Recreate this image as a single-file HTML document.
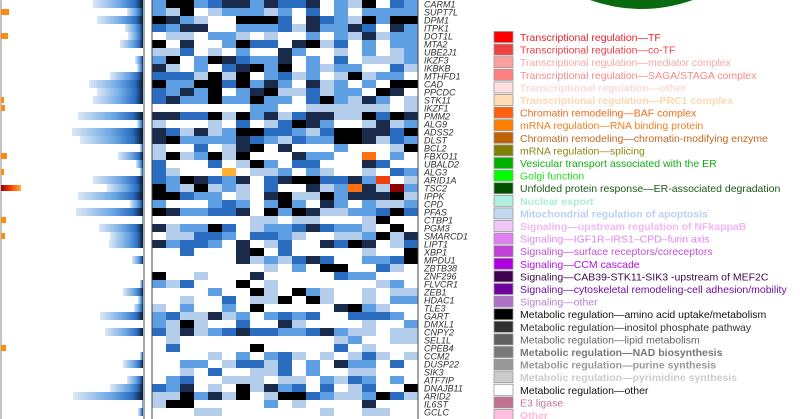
<!DOCTYPE html>
<html><head><meta charset="utf-8">
<style>
html,body{margin:0;padding:0;background:#fff;width:800px;height:419px;overflow:hidden}
svg{display:block}
</style></head>
<body>
<svg id="chart" width="800" height="419" viewBox="0 0 800 419" xmlns="http://www.w3.org/2000/svg">
<path d="M590,0 Q641,18 693,0 Z" fill="#0a6a10"/>
<g id="bars"></g><g id="marks"></g><g id="heat"></g><g id="genes"></g><g id="legend"></g>
</svg>
<script>
const genes=["CARM1","SUPT7L","DPM1","ITPK1","DOT1L","MTA2","UBE2J1","IKZF3","IKBKB","MTHFD1","CAD","PPCDC","STK11","IKZF1","PMM2","ALG9","ADSS2","DLST","BCL2","FBXO11","UBALD2","ALG3","ARID1A","TSC2","IPPK","CPD","PFAS","CTBP1","PGM3","SMARCD1","LIPT1","XBP1","MPDU1","ZBTB38","ZNF296","FLVCR1","ZEB1","HDAC1","TLE3","GART","DMXL1","CNPY2","SEL1L","CPEB4","CCM2","DUSP22","SIK3","ATF7IP","DNAJB11","ARID2","IL6ST","GCLC"];
const barValues=[50,16,46,18,15,23,0,8,6,33,54,46,50,0,65,6,71,63,3,25,7,3,50,36,65,13,67,1,44,33,34,0,11,0,0,3,20,5,9,43,0,38,0,0,3,20,0,16,33,70,1,5];
const markValues=[0,8,0,0,7,0,0,0,0,0,0,0,3,4,0,0,0,0,0,6,0,3,0,20,0,0,0,5,0,4,0,0,0,0,0,0,0,0,0,0,0,0,0,5,0,0,0,0,0,0,0,0];
const heatValues=[
[2,5,5,2,3,4,4,2,4,3,3,4,0,2,1,5,0,3,2],
[2,1,5,0,1,2,2,2,1,2,0,3,0,2,0,2,2,2,2],
[5,4,2,1,0,0,5,5,5,3,0,4,3,2,1,5,2,5,5],
[3,2,4,4,0,0,2,2,2,3,1,4,2,2,4,3,0,4,2],
[0,1,1,0,2,2,1,0,1,0,0,2,0,2,1,4,1,2,2],
[5,0,4,0,0,2,5,3,3,0,4,5,1,3,0,2,0,2,2],
[1,1,3,0,1,0,2,0,0,4,2,0,0,1,0,2,0,1,2],
[2,5,0,2,5,4,3,2,2,4,0,2,0,3,0,1,1,1,2],
[4,1,0,2,0,3,4,5,2,5,0,2,1,2,2,0,0,3,1],
[3,3,3,1,5,1,5,0,2,3,1,2,0,1,5,1,2,2,0],
[5,2,2,5,5,3,5,2,4,2,0,4,1,2,0,2,0,5,5],
[3,2,4,2,5,0,2,4,5,1,1,3,1,2,2,0,5,4,0],
[3,4,2,2,5,2,2,5,2,2,0,3,5,2,1,4,2,0,1],
[0,0,0,0,0,0,0,2,2,0,0,1,1,1,1,1,1,0,1],
[4,4,3,3,5,1,5,2,4,1,3,4,4,1,1,5,3,5,4],
[1,0,0,0,1,0,3,0,1,3,5,4,2,0,0,1,4,1,2],
[4,3,1,4,1,2,5,5,3,3,2,1,3,5,5,4,4,3,5],
[4,5,2,2,2,2,4,3,2,1,3,2,2,5,5,4,1,3,2],
[1,0,0,3,0,1,4,5,0,4,0,0,0,2,0,0,0,1,5],
[1,5,1,2,5,1,5,0,0,0,4,2,2,0,0,6,0,2,0],
[3,0,0,0,3,0,1,5,2,0,3,3,0,0,0,4,3,0,0],
[3,1,0,0,0,9,0,1,1,2,0,2,1,0,0,1,0,3,2],
[3,2,5,4,3,2,4,0,3,4,5,5,3,3,4,2,7,0,1],
[5,2,1,5,1,2,1,0,3,0,0,4,1,2,6,4,1,8,2],
[5,5,3,2,2,0,1,0,4,5,1,1,5,2,4,4,4,5,1],
[2,0,0,0,2,3,2,0,2,5,2,0,4,2,0,2,1,1,2],
[5,4,2,2,3,3,4,0,5,2,5,4,1,1,2,2,3,5,3],
[0,0,0,0,0,0,0,1,1,0,1,1,0,0,0,1,5,0,0],
[4,1,2,2,5,3,0,1,2,2,3,4,3,2,2,1,0,5,0],
[0,1,1,3,3,2,0,3,3,2,1,0,0,1,1,2,5,1,4],
[4,2,3,3,2,0,4,0,1,3,0,0,4,3,5,4,0,1,3],
[0,0,3,0,0,0,4,5,0,3,0,0,0,0,0,1,0,0,5],
[0,0,0,0,0,0,4,1,2,1,3,4,3,0,0,2,2,3,5],
[0,0,0,0,0,0,0,0,1,0,2,0,5,5,0,0,3,1,0],
[5,0,0,1,0,0,0,4,0,0,0,0,0,3,2,2,0,0,0],
[2,1,3,0,0,0,5,0,1,0,0,0,0,0,0,0,1,2,0],
[0,0,0,0,2,0,0,5,1,0,5,2,1,0,0,1,0,1,1],
[0,0,1,0,0,3,0,1,1,5,0,5,1,0,0,1,0,2,2],
[1,0,2,0,0,2,0,5,0,0,0,0,0,4,5,2,1,0,0],
[2,3,1,1,4,1,2,0,2,3,2,3,0,0,3,3,3,2,0],
[2,1,5,1,0,0,3,0,0,4,1,0,0,0,0,1,0,0,2],
[3,1,4,1,2,3,4,3,3,2,2,3,4,2,1,1,0,1,1],
[0,1,0,0,0,0,0,0,0,0,0,0,0,1,2,0,0,1,1],
[0,3,0,0,0,0,0,5,0,0,0,0,0,3,0,1,0,0,0],
[0,0,0,0,1,0,2,0,2,3,1,0,1,0,1,3,1,0,1],
[0,0,2,2,0,1,3,3,1,3,0,2,0,4,2,2,0,3,0],
[0,0,1,0,3,0,0,1,1,3,0,2,0,0,1,1,0,0,0],
[0,2,3,0,0,1,1,1,0,1,1,0,2,1,3,2,0,2,0],
[3,2,4,0,1,0,5,1,4,2,3,0,3,0,1,3,0,0,5],
[1,1,5,2,4,1,5,0,1,5,5,3,2,1,1,2,5,3,1],
[1,5,5,0,0,0,0,0,2,0,1,0,0,0,0,4,0,0,0],
[0,0,0,1,1,0,0,0,0,0,0,0,1,0,0,1,1,0,0]];
const legendLabels=["Transcriptional regulation—TF","Transcriptional regulation—co-TF","Transcriptional regulation—mediator complex","Transcriptional regulation—SAGA/STAGA complex","Transcriptional regulation—other","Transcriptional regulation—PRC1 complex","Chromatin remodeling—BAF complex","mRNA regulation—RNA binding protein","Chromatin remodeling—chromatin-modifying enzyme","mRNA regulation—splicing","Vesicular transport associated with the ER","Golgi function","Unfolded protein response—ER-associated degradation","Nuclear export","Mitochondrial regulation of apoptosis","Signaling—upstream regulation of NFkappaB","Signaling—IGF1R–IRS1–CPD–furin axis","Signaling—surface receptors/coreceptors","Signaling—CCM cascade","Signaling—CAB39-STK11-SIK3 -upstream of MEF2C","Signaling—cytoskeletal remodeling-cell adhesion/mobility","Signaling—other","Metabolic regulation—amino acid uptake/metabolism","Metabolic regulation—inositol phosphate pathway","Metabolic regulation—lipid metabolism","Metabolic regulation—NAD biosynthesis","Metabolic regulation—purine synthesis","Metabolic regulation—pyrimidine synthesis","Metabolic regulation—other","E3 ligase","Other"];
const legendColors=["#ff0000","#f04040","#ffa0a0","#ff8080","#ffe0e0","#ffdcb8","#ff6010","#ff8000","#c06000","#808000","#00b000","#00ff00","#005000","#b0f0e0","#c0d8f0","#f0c8f8","#e080f0","#c040d8","#b000e0","#400050","#7000a0","#b070c8","#000000","#303030","#606060","#787878","#999999","#cccccc","#ffffff","#c07090","#ffc0e0"];
const legendText=["#e8202a","#f04048","#f6a8a8","#f68a8a","#fadada","#fcd8b0","#f06a1a","#f08020","#c06a20","#8a8a10","#10b010","#20e020","#1a5a1a","#a8eed8","#b8d2f0","#f0b8f4","#e088f0","#c050d8","#b010e0","#3a0a4a","#7010a0","#b880d0","#111111","#333333","#666666","#777777","#999999","#cccccc","#111111","#c07898","#ffb8d8"];
const legendBold=[0,0,0,0,1,1,0,0,0,0,0,0,0,1,1,1,0,0,0,0,0,0,0,0,0,1,1,1,0,0,1];

const NS="http://www.w3.org/2000/svg";
function mk(t,a,p){const e=document.createElementNS(NS,t);for(const k in a)e.setAttribute(k,a[k]);p.appendChild(e);return e;}
const rowH=8, colW=14, heatX=152, barRight=143;
const yRow=i=>i*rowH;
const xCol=j=>heatX+j*colW;
const barScale=v=>v*1.0;
const heatPal=["#ffffff","#b4cdea","#5d9fe2","#2a6cc0","#1a2a4a","#000000","#ff7010","#f04010","#8a0000","#ffb030"];
const svg=document.getElementById('chart');
const defs=mk('defs',{},svg);
const gr=mk('linearGradient',{id:'bg',x1:'0',x2:'1',y1:'0',y2:'0'},defs);
mk('stop',{offset:'0','stop-color':'#dce8f5'},gr);mk('stop',{offset:'0.55','stop-color':'#6aa6e4'},gr);mk('stop',{offset:'0.85','stop-color':'#2a6cc0'},gr);mk('stop',{offset:'1','stop-color':'#0a1a30'},gr);
const gr2=mk('linearGradient',{id:'og',x1:'0',x2:'1',y1:'0',y2:'0'},defs);
mk('stop',{offset:'0','stop-color':'#900000'},gr2);mk('stop',{offset:'0.5','stop-color':'#ff4000'},gr2);mk('stop',{offset:'1','stop-color':'#ffb030'},gr2);

const gb=document.getElementById('bars');
barValues.forEach((v,i)=>{if(v<=0)return;const w=barScale(v);
 const r=mk('rect',{x:barRight-w,y:yRow(i),width:w,height:rowH,fill:'url(#bg)'},gb);
 
 });
const ax=mk('line',{x1:144,x2:144,y1:0,y2:419,stroke:'#555','stroke-width':1},gb);


const gm=document.getElementById('marks');
mk('line',{x1:1,x2:1,y1:0,y2:419,stroke:'#888','stroke-width':1},gm);
markValues.forEach((v,i)=>{if(v<=0)return;
 const r=mk('rect',{x:1,y:yRow(i)+1,width:v,height:rowH-2,fill:v>10?'url(#og)':'#ff8a10'},gm);
 
 });
const gh=document.getElementById('heat');
heatValues.forEach((row,i)=>row.forEach((v,j)=>{
 const r=mk('rect',{x:xCol(j),y:yRow(i),width:colW,height:rowH,fill:heatPal[v]},gh);
 
 }));
const bd=mk('rect',{x:heatX,y:-1,width:colW*19,height:421,fill:'none',stroke:'#444','stroke-width':1},gh);


const gg=document.getElementById('genes');
genes.forEach((g,i)=>{const t=mk('text',{x:424,y:yRow(i)+7.5,'font-family':'Liberation Sans, sans-serif','font-size':'9','font-style':'italic',fill:'#333'},gg);
 t.textContent=g;
 
 });
const gl=document.getElementById('legend');
legendLabels.forEach((l,i)=>{const y=37+i*12.6;
 const r=mk('rect',{x:494,y:y-5.5,width:19,height:11,fill:legendColors[i],stroke:'#999','stroke-width':0.8},gl);
 
 
 const t=mk('text',{x:520,y:y+4,'font-family':'Liberation Sans, sans-serif','font-size':'10.5','font-weight':legendBold[i]?'bold':'normal',fill:legendText[i]},gl);
 t.textContent=l;
 
 });
</script>
</body></html>
